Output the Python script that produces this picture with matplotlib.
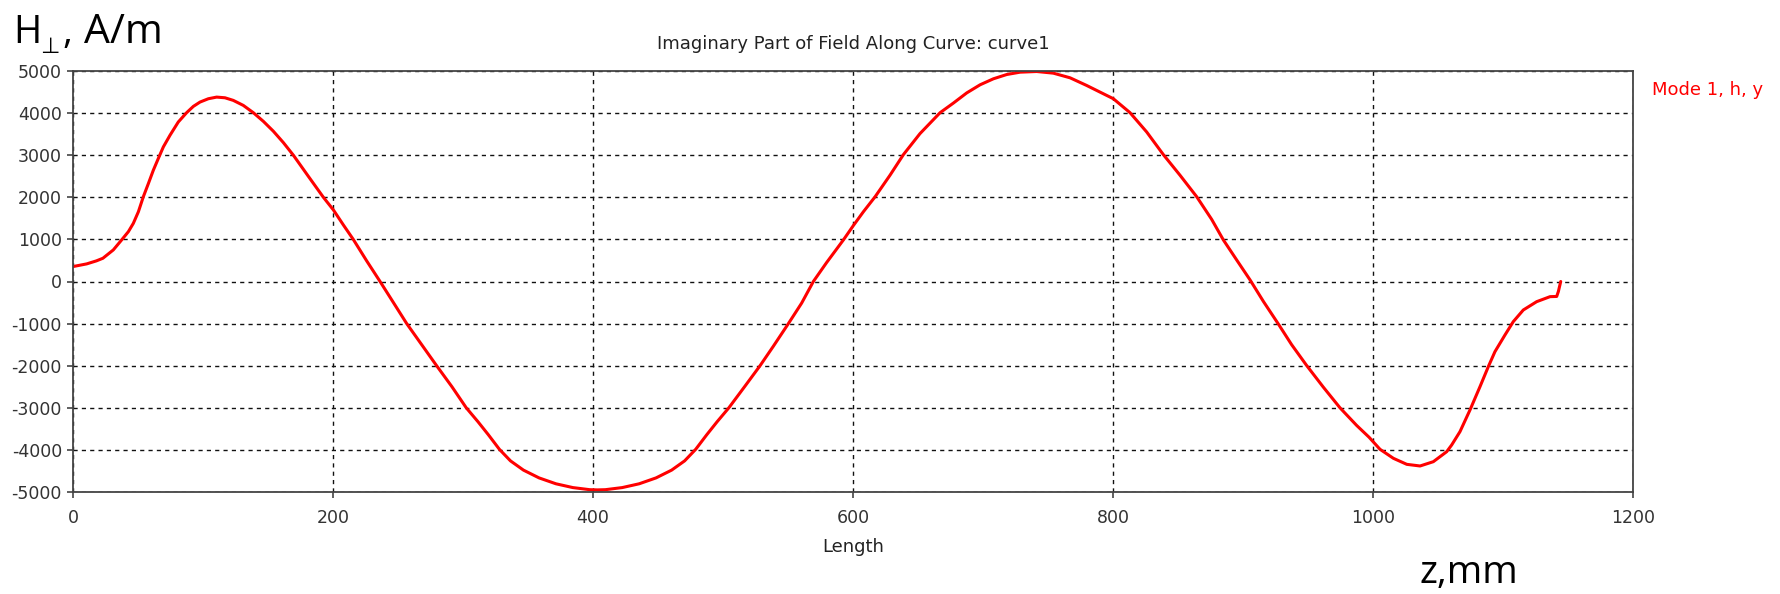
import matplotlib
matplotlib.use("Agg")
import matplotlib.pyplot as plt

# Imaginary part of the transverse magnetic field along curve1
z_mm = [0, 10.5, 18, 23, 31, 37.4, 42.6, 46.4, 50.3, 54.1, 58, 61.8, 65.6, 69.5, 74.6,
        81, 87.4, 92.6, 97.7, 104.1, 110.5, 116.9, 123.3, 131, 138.7, 146.4, 154.1,
        161.8, 169.5, 181, 192.6, 200.3, 208, 215.6, 225.9, 236.2, 246.4, 256.7,
        268.2, 279.7, 291.5, 302.5, 311.5, 319.5, 328, 336.5, 346.5, 358.5, 371.5,
        384.5, 397.5, 403.5, 409.5, 422.5, 435.5, 448.5, 460.5, 470.5, 479,
        487.5, 495.5, 504.5, 516.9, 528.5, 538.7, 550.3, 560.5, 569.5, 579.7,
        592.6, 600.3, 608, 617, 628.5, 638.8, 651.5, 667, 677.3, 687.5, 697.8,
        708, 718.3, 728.5, 741.3, 754.1, 767, 779.7, 790, 800.3, 813.1, 825.9,
        838.7, 851.5, 864.4, 875.9, 884.9, 895.1, 905.4, 915.7, 927.2, 937.4, 949,
        961.8, 974.6, 987.4, 997, 1005.4, 1015.7, 1026, 1036.2, 1046.4, 1056.7,
        1060.5, 1066.9, 1074.6, 1082.3, 1088.7, 1093.8, 1101.5, 1107.9, 1115.6,
        1125.9, 1136.2, 1141.3, 1142.6, 1144.4]
h_perp = [355, 418, 490, 552, 750, 987, 1184, 1381, 1657, 2013, 2328, 2644, 2920,
          3197, 3473, 3789, 4010, 4160, 4262, 4341, 4380, 4364, 4302, 4183, 4010,
          3805, 3570, 3300, 3000, 2500, 2000, 1700, 1342, 1000, 490, 0, -497, -1000,
          -1500, -2000, -2500, -3000, -3330, -3640, -3986, -4260, -4480, -4665,
          -4805, -4895, -4945, -4950, -4945, -4895, -4805, -4665, -4480, -4260,
          -3986, -3640, -3330, -3000, -2486, -2000, -1539, -1000, -513, 0, 450,
          987, 1330, 1657, 2013, 2526, 3015, 3512, 4010, 4240, 4480, 4673, 4815,
          4917, 4972, 4988, 4949, 4838, 4657, 4499, 4341, 4010, 3552, 3015, 2526,
          2013, 1476, 987, 513, 39, -474, -1010, -1500, -1997, -2510, -3000, -3418,
          -3700, -3986, -4200, -4343, -4382, -4280, -4042, -3884, -3567, -3052,
          -2498, -2023, -1667, -1271, -954, -677, -479, -360, -355, -237, 0]

x_ticks = [0, 200, 400, 600, 800, 1000, 1200]
y_ticks = [-5000, -4000, -3000, -2000, -1000, 0, 1000, 2000, 3000, 4000, 5000]

plot_title = "Imaginary Part of Field Along Curve: curve1"
series_name = "Mode 1, h, y"
x_name = "Length"

plt.rcParams["axes.unicode_minus"] = False
plt.rcParams["font.family"] = ["DejaVu Sans"]

W, H = 1781, 594
fig = plt.figure(figsize=(W / 100, H / 100), dpi=100)
fig.patch.set_facecolor("white")

ax = fig.add_axes([73 / W, 1 - 492 / H, 1560 / W, 421 / H])
ax.plot(z_mm, h_perp, color="#ff0000", lw=2.2,
        solid_joinstyle="round", solid_capstyle="round")

ax.set_xlim(0, 1200)
ax.set_ylim(-5000, 5000)
ax.set_xticks(x_ticks)
ax.set_yticks(y_ticks)
ax.set_xticklabels([str(v) for v in x_ticks])
ax.set_yticklabels([str(v) for v in y_ticks])

ax.grid(True, color="#111111", lw=1.0, linestyle=(0, (3, 3)))
for s in ax.spines.values():
    s.set_color("#444444")
    s.set_linewidth(1.3)

ax.tick_params(axis="both", direction="out", length=4, width=1.2,
               color="#444444", labelcolor="#333333", labelsize=12.5)
ax.tick_params(axis="x", pad=8.5)
ax.tick_params(axis="y", pad=4)

ax.set_title(plot_title, fontsize=13, color="#222222", pad=16)
ax.set_xlabel(x_name, fontsize=13, color="#222222", labelpad=7.5)

fig.text(1652 / W, 1 - 90 / H, series_name, color="#ff0000",
         fontsize=13, va="center", ha="left")

# Axis quantity labels
big = ["Open Sans", "DejaVu Sans"]
fig.text(13 / W, 1 - 43 / H, "H", fontsize=27.5, family=big,
         color="black", va="baseline", ha="left")
fig.text(40 / W, 1 - 53 / H, "\u22a5", fontsize=16, family=["DejaVu Sans"],
         color="black", va="baseline", ha="left")
fig.text(62 / W, 1 - 43 / H, ",", fontsize=27.5, family=big,
         color="black", va="baseline", ha="left")
fig.text(84 / W, 1 - 43 / H, "A/m", fontsize=29.5, family=big,
         color="black", va="baseline", ha="left")
fig.text(1420 / W, 1 - 583 / H, "z,mm", fontsize=27.5, family=big,
         color="black", va="baseline", ha="left")

fig.savefig("out.png", dpi=100, facecolor="white")
